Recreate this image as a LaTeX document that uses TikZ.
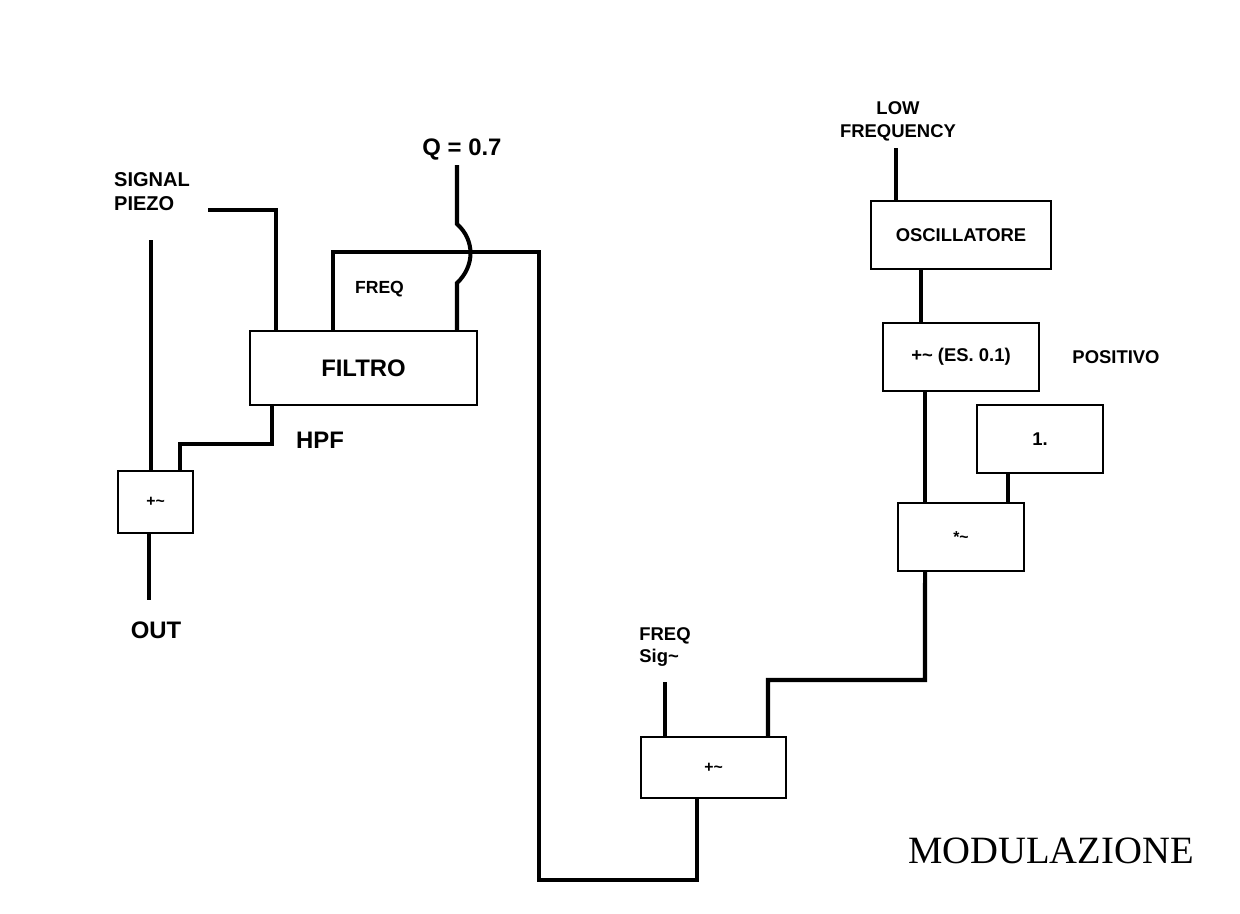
\documentclass[tikz,border=0pt]{standalone}
\usepackage{fontspec}
\setmainfont{Liberation Sans}
\newfontfamily\titlefont{Liberation Serif}
\begin{document}
\begin{tikzpicture}[x=0.02cm, y=-0.02cm,
  box/.style={draw, line width=1.1pt, inner sep=0pt,
    font=\bfseries\fontsize{10.5}{12}\selectfont},
  wire/.style={line width=2.3pt},
  lbl/.style={font=\bfseries\fontsize{10.5}{13}\selectfont, align=center},
  big/.style={font=\bfseries\fontsize{13.6}{16}\selectfont}]

\useasboundingbox (0,0) rectangle (1240,913);

% --- Blocks ---
\node[box, big, minimum width=4.54cm, minimum height=1.48cm] (filtro) at (363.5,368) {FILTRO};
\node[box, minimum width=1.5cm, minimum height=1.24cm,
  font=\bfseries\fontsize{9}{10}\selectfont] (sumL) at (155.5,502) {+\textasciitilde};
\node[box, minimum width=3.6cm, minimum height=1.36cm] (osc) at (961,235) {OSCILLATORE};
\node[box, minimum width=3.12cm, minimum height=1.36cm] (offs) at (961,357) {+\textasciitilde\ (ES. 0.1)};
\node[box, minimum width=2.52cm, minimum height=1.36cm] (one) at (1040,439) {1.};
\node[box, minimum width=2.52cm, minimum height=1.36cm,
  font=\bfseries\fontsize{9}{10}\selectfont] (mul) at (961,537) {*\textasciitilde};
\node[box, minimum width=2.9cm, minimum height=1.22cm,
  font=\bfseries\fontsize{9}{10}\selectfont] (sumB) at (713.5,767.5) {+\textasciitilde};

% --- Labels ---
\node[lbl, align=left, font=\bfseries\fontsize{11.4}{13.6}\selectfont] (piezo) at (152,192) {SIGNAL\\PIEZO};
\node[big] (qlab) at (462,150) {Q = 0.7};
\node[lbl, font=\bfseries\fontsize{10}{12}\selectfont] (freqlab) at (379.5,289) {FREQ};
\node[big] (hpf) at (320,440) {HPF};
\node[big] (out) at (156,630) {OUT};
\node[lbl] (lfo) at (898,121) {LOW\\FREQUENCY};
\node[lbl] (pos) at (1116,357) {POSITIVO};
\node[lbl, align=left, font=\bfseries\fontsize{10.5}{12}\selectfont] (fsig) at (665,647) {FREQ\\Sig\textasciitilde};
\node[font=\titlefont\fontsize{22}{24}\selectfont] (title) at (1051,851) {MODULAZIONE};

% --- Free ends ---
\coordinate (piezoout) at (208,210);
\coordinate (dry) at (151,240);
\coordinate (outend) at (149,600);
\coordinate (qin) at (457,165);
\coordinate (bumpin) at (457,224);
\coordinate (bumpout) at (457,283);
\coordinate (fr1) at (539,252);
\coordinate (fr2) at (539,880);
\coordinate (lfoin) at (896,148);
\coordinate (fsigin) at (665,682);
\coordinate (m1) at (925,680);

% --- Filter side ---
\draw[wire] (piezoout) -| ([xshift=0.54cm]filtro.north west);
\draw[wire] (dry) -- (dry |- sumL.north);
\draw[wire] ([xshift=0.46cm]filtro.south west) -- ++(0,-0.76cm)
  -| ([xshift=1.26cm]sumL.north west);
\draw[wire] (sumL.south -| outend) -- (outend);
\draw[wire] ([xshift=1.68cm]filtro.north west) |- (fr1) -- (fr2)
  -| ([xshift=-0.33cm]sumB.south);
\draw[wire] (qin) -- (bumpin) .. controls +(18,16) and +(18,-17) .. (bumpout)
  -- (bumpout |- filtro.north);

% --- Modulation chain ---
\draw[wire] (lfoin) -- (lfoin |- osc.north);
\draw[wire] ([xshift=-0.8cm]osc.south) coordinate (o1) -- (o1 |- offs.north);
\draw[wire] ([xshift=-0.72cm]offs.south) coordinate (o2) -- (o2 |- mul.north);
\draw[wire] ([xshift=-0.64cm]one.south) coordinate (o3) -- (o3 |- mul.north);
\draw[wire] ([xshift=-0.72cm]mul.south) -- (m1) -| ([xshift=1.09cm]sumB.north);
\draw[wire] (fsigin) -- (fsigin |- sumB.north);

\end{tikzpicture}
\end{document}
